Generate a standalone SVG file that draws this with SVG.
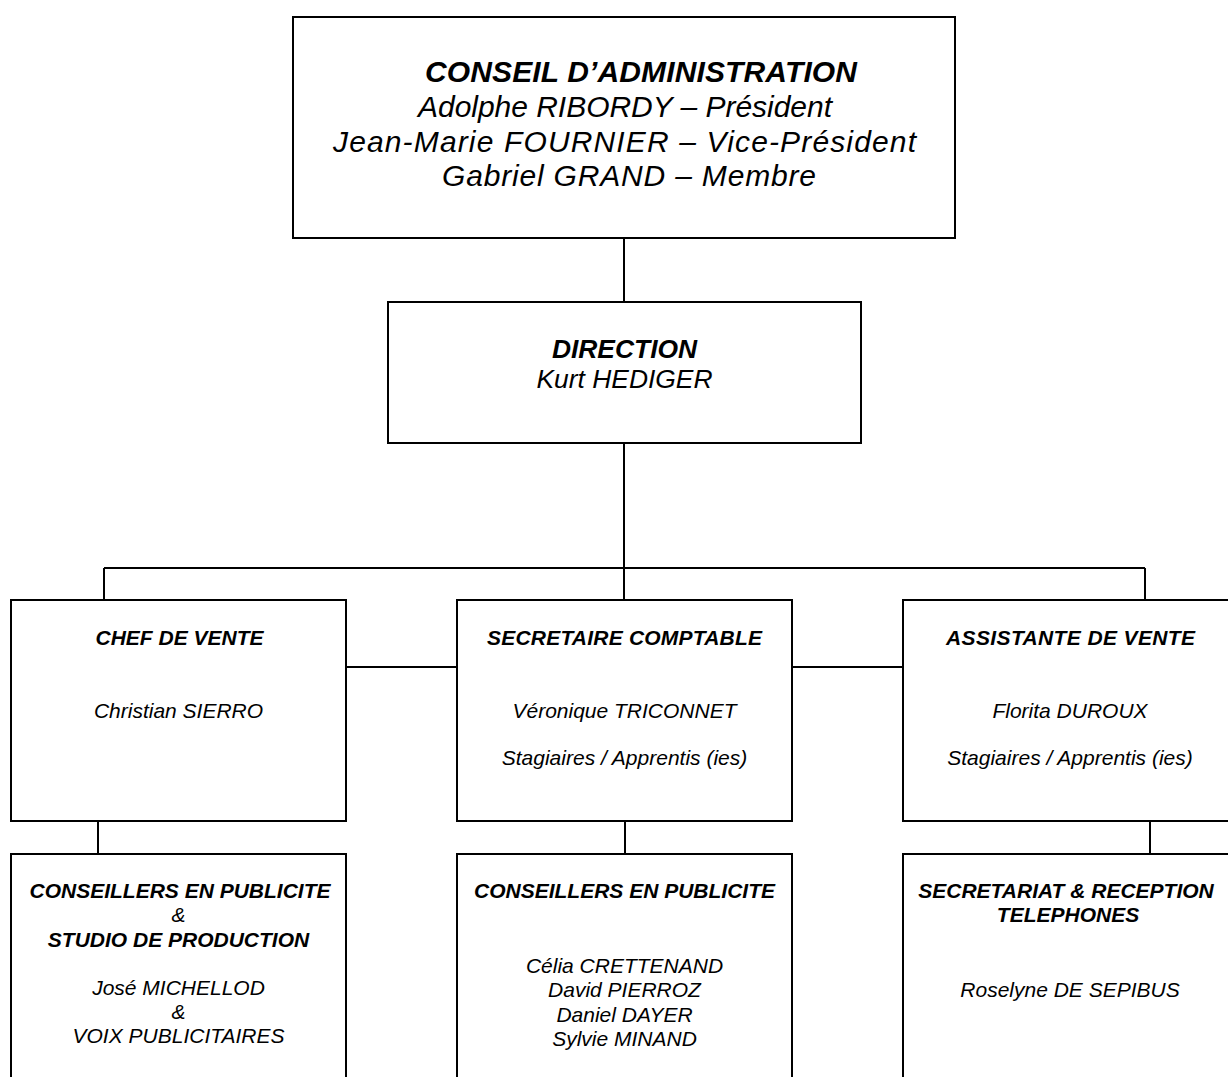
<svg xmlns="http://www.w3.org/2000/svg" width="1228" height="1077" viewBox="0 0 1228 1077">
<style>
.box{fill:#fff;stroke:#000;stroke-width:2}
.ln{fill:none;stroke:#000;stroke-width:2}
text{font-family:"Liberation Sans",Arial,sans-serif;font-style:italic;fill:#000;text-anchor:middle}
.b{font-weight:bold}
.t1{font-size:30px}
.t2{font-size:26.4px}
.t3{font-size:21px}
</style>
<rect width="1228" height="1077" fill="#fff"/>
<g id="connectors">
<path class="ln" d="M624,238V302M624,443V568M104,568H1145M104,568V600M624,568V600M1145,568V600M346,667H457M792,667H903M98,821V854M625,821V854M1150,821V854"/>
</g>
<g id="conseil">
<rect class="box" x="293" y="17" width="662" height="221"/>
<text class="t1 b" x="641" y="82" textLength="432">CONSEIL D’ADMINISTRATION</text>
<text class="t1" x="625" y="117" textLength="414">Adolphe RIBORDY – Président</text>
<text class="t1" x="624.5" y="151.5" textLength="583">Jean-Marie FOURNIER – Vice-Président</text>
<text class="t1" x="629" y="186" textLength="374">Gabriel GRAND – Membre</text>
</g>
<g id="direction">
<rect class="box" x="388" y="302" width="473" height="141"/>
<text class="t2 b" x="624.5" y="358">DIRECTION</text>
<text class="t2" x="624.5" y="388">Kurt HEDIGER</text>
</g>
<g id="chef">
<rect class="box" x="11" y="600" width="335" height="221"/>
<text class="t3 b" x="179.5" y="645">CHEF DE VENTE</text>
<text class="t3" x="178.5" y="718">Christian SIERRO</text>
</g>
<g id="secretaire">
<rect class="box" x="457" y="600" width="335" height="221"/>
<text class="t3 b" x="624.5" y="645" textLength="275">SECRETAIRE COMPTABLE</text>
<text class="t3" x="624.5" y="718">Véronique TRICONNET</text>
<text class="t3" x="624.5" y="765">Stagiaires / Apprentis (ies)</text>
</g>
<g id="assistante">
<rect class="box" x="903" y="600" width="335" height="221"/>
<text class="t3 b" x="1070.5" y="645" textLength="249">ASSISTANTE DE VENTE</text>
<text class="t3" x="1070" y="718">Florita DUROUX</text>
<text class="t3" x="1070" y="765">Stagiaires / Apprentis (ies)</text>
</g>
<g id="conseillers-studio">
<rect class="box" x="11" y="854" width="335" height="240"/>
<text class="t3 b" x="180" y="898">CONSEILLERS EN PUBLICITE</text>
<text class="t3" x="178.5" y="922">&amp;</text>
<text class="t3 b" x="178.5" y="946.5">STUDIO DE PRODUCTION</text>
<text class="t3" x="178.5" y="995">José MICHELLOD</text>
<text class="t3" x="178.5" y="1019">&amp;</text>
<text class="t3" x="178.5" y="1043">VOIX PUBLICITAIRES</text>
</g>
<g id="conseillers">
<rect class="box" x="457" y="854" width="335" height="240"/>
<text class="t3 b" x="624.5" y="898">CONSEILLERS EN PUBLICITE</text>
<text class="t3" x="624.5" y="973">Célia CRETTENAND</text>
<text class="t3" x="624.5" y="997">David PIERROZ</text>
<text class="t3" x="624.5" y="1021.5">Daniel DAYER</text>
<text class="t3" x="624.5" y="1046">Sylvie MINAND</text>
</g>
<g id="secretariat">
<rect class="box" x="903" y="854" width="335" height="240"/>
<text class="t3 b" x="1066" y="898">SECRETARIAT &amp; RECEPTION</text>
<text class="t3 b" x="1068" y="922">TELEPHONES</text>
<text class="t3" x="1070" y="997">Roselyne DE SEPIBUS</text>
</g>
</svg>
